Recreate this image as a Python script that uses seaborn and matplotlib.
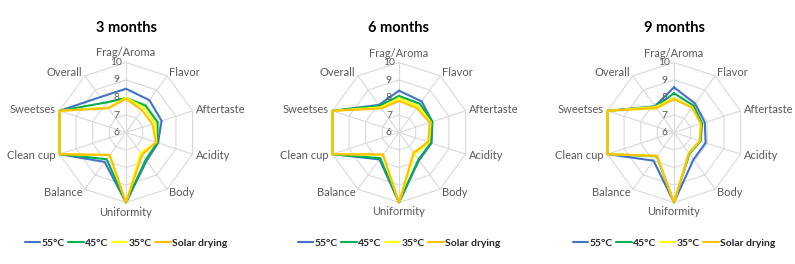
import numpy as np
import pandas as pd
import matplotlib
matplotlib.use("Agg")
import matplotlib.pyplot as plt
from matplotlib.transforms import offset_copy
import seaborn as sns

sns.set_style("white")
plt.rcParams["font.family"] = ["Lato", "DejaVu Sans"]

# --- datos ---
categories = ["Frag/Aroma", "Flavor", "Aftertaste", "Acidity", "Body",
              "Uniformity", "Balance", "Clean cup", "Sweetses", "Overall"]
treatments = ["55°C", "45°C", "35°C", "Solar drying"]
colors = ["#4472C4", "#00B050", "#FFFF00", "#FFC000"]
titles = ["3 months", "6 months", "9 months"]
rticks = [6, 7, 8, 9, 10]

m3_55 = [8.50, 8.28, 8.14, 7.92, 8.00, 10, 8.08, 10, 10, 8.50]
m3_45 = [7.97, 7.90, 7.90, 7.88, 7.92, 10, 7.89, 10, 10, 8.10]
m3_35 = [7.98, 7.76, 7.74, 7.83, 7.44, 10, 7.60, 10, 10, 7.75]
m3_solar = [7.92, 7.57, 7.58, 7.80, 7.57, 10, 7.58, 10, 10, 7.72]

m6_55 = [8.39, 8.20, 8.00, 7.95, 7.95, 10, 7.90, 10, 10, 7.95]
m6_45 = [8.09, 8.03, 8.00, 7.92, 7.90, 10, 7.82, 10, 10, 7.88]
m6_35 = [7.95, 7.87, 7.90, 7.80, 7.50, 10, 7.58, 10, 10, 7.78]
m6_solar = [7.80, 7.73, 7.85, 7.75, 7.42, 10, 7.55, 10, 10, 7.70]

m9_55 = [8.58, 8.05, 7.85, 7.90, 7.90, 10, 7.99, 10, 10, 7.85]
m9_45 = [8.24, 7.90, 7.69, 7.60, 7.50, 10, 7.68, 10, 10, 7.82]
m9_35 = [7.95, 7.77, 7.60, 7.55, 7.45, 10, 7.65, 10, 10, 7.80]
m9_solar = [7.90, 7.77, 7.62, 7.55, 7.45, 10, 7.65, 10, 10, 7.72]

panels = [[m3_55, m3_45, m3_35, m3_solar],
          [m6_55, m6_45, m6_35, m6_solar],
          [m9_55, m9_45, m9_35, m9_solar]]

# --- figura ---
W, H = 795, 264
fig = plt.figure(figsize=(W / 100, H / 100), dpi=100)
centers_x = [126, 399, 674]
cy, R = 132.5, 70
grid_c = "#D9D9D9"
text_c = "#595959"

n = len(categories)
angles = np.linspace(0, 2 * np.pi, n, endpoint=False)
closed = np.append(angles, 2 * np.pi)

for cx, title, series in zip(centers_x, titles, panels):
    ax = fig.add_axes([(cx - R) / W, (H - cy - R) / H, 2 * R / W, 2 * R / H],
                      projection="polar")
    ax.set_theta_offset(np.pi / 2)
    ax.set_theta_direction(-1)
    ax.grid(False)
    ax.spines["polar"].set_visible(False)

    # rejilla poligonal
    for lev in rticks[1:]:
        ax.plot(closed, [lev] * (n + 1), color=grid_c, lw=0.8, zorder=0, clip_on=False)
    for a in angles:
        ax.plot([a, a], [6, 10], color=grid_c, lw=0.8, zorder=0, clip_on=False)

    rows = []
    for t, vals in zip(treatments, series):
        for a, v in zip(closed, vals + [vals[0]]):
            rows.append({"angle": a, "score": v, "treatment": t})
    df = pd.DataFrame(rows)

    sns.lineplot(data=df, x="angle", y="score", hue="treatment",
                 hue_order=treatments, palette=colors, sort=False,
                 estimator=None, lw=1.5, clip_on=False, ax=ax)

    ax.set_ylim(6, 10)
    ax.set_xticks([])
    ax.set_yticks([])
    ax.set_xlabel("")
    ax.set_ylabel("")

    # etiquetas del eje radial
    tr = offset_copy(ax.transData, fig=fig, x=-10, y=0, units="dots")
    for lev in rticks:
        ax.text(0, lev, str(lev), transform=tr, ha="center", va="center",
                fontsize=7.5, color=text_c)

    # etiquetas de categorías
    for a, cat in zip(angles, categories):
        s, c = np.sin(a), np.cos(a)
        if abs(s) < 0.1:
            ha = "center"
            va = "bottom" if c > 0 else "top"
            gap = 4
        else:
            ha = "left" if s > 0 else "right"
            va = "center"
            gap = 4
        tr = offset_copy(ax.transData, fig=fig, x=s * gap, y=c * gap, units="dots")
        ax.text(a, 10, cat, transform=tr, ha=ha, va=va, fontsize=8, color=text_c)

    fig.text(cx / W, 1 - 28 / H, title, ha="center", va="center",
             fontsize=10.5, fontweight="bold", color="black")

    sns.move_legend(ax, "center", bbox_to_anchor=(0.5, (H - 243 - (H - cy - R)) / (2 * R)),
                    ncol=4, frameon=False, title=None,
                    prop={"weight": "bold", "size": 7.5},
                    handlelength=1.5, handletextpad=0.15, columnspacing=0.3)

fig.savefig("out.png", dpi=100)
